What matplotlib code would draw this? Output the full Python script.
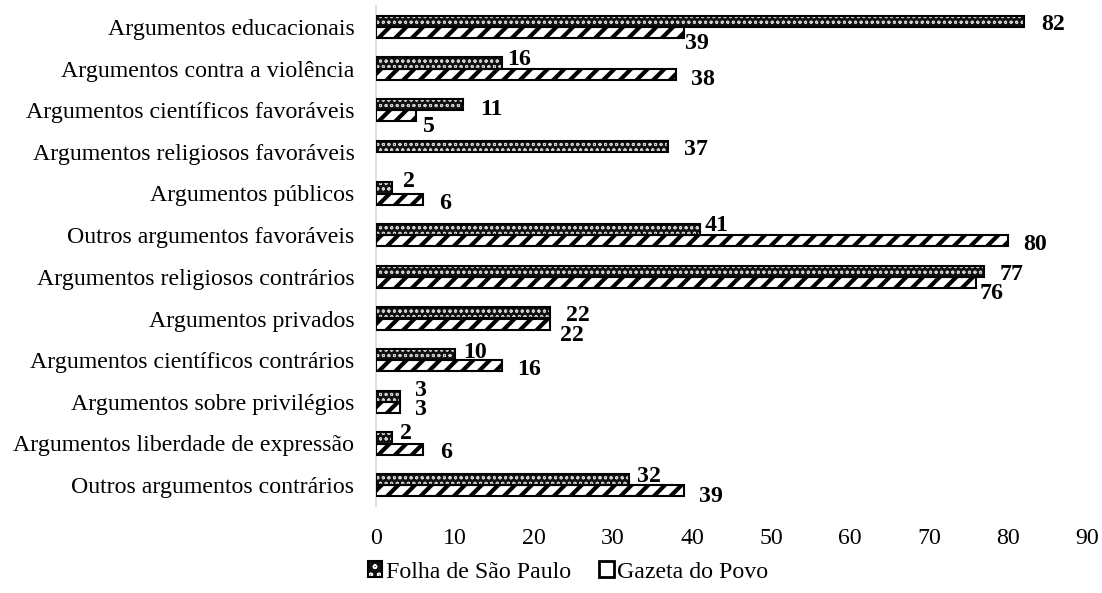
import matplotlib
matplotlib.use("Agg")
import matplotlib.pyplot as plt
import matplotlib.patches as mpatches
import numpy as np

categories = [
    "Argumentos educacionais",
    "Argumentos contra a violência",
    "Argumentos científicos favoráveis",
    "Argumentos religiosos favoráveis",
    "Argumentos públicos",
    "Outros argumentos favoráveis",
    "Argumentos religiosos contrários",
    "Argumentos privados",
    "Argumentos científicos contrários",
    "Argumentos sobre privilégios",
    "Argumentos liberdade de expressão",
    "Outros argumentos contrários",
]
folha = [82, 16, 11, 37, 2, 41, 77, 22, 10, 3, 2, 32]
gazeta = [39, 38, 5, 0, 6, 80, 76, 22, 16, 3, 6, 39]
series_names = ["Folha de São Paulo", "Gazeta do Povo"]
xticks = [0, 10, 20, 30, 40, 50, 60, 70, 80, 90]

# label offsets (pixels: dx right of bar end, dy down from bar centre)
folha_off = [(17, 1), (5, -6), (17, 2), (16, 1), (11, -9), (5, -6.5),
             (15, 1), (16, 0), (8, -5), (15, -8.5), (8, -7), (8, -6)]
gazeta_off = [(1, 9), (15, 3), (7, 8.5), (0, 0), (16, 2), (15, 1.5),
              (3, 9), (10, 9), (15, 1), (15, 0), (17, 1), (15, 3)]

plt.rcParams['font.family'] = ['Liberation Serif', 'DejaVu Serif']
FS = 17.2

fig = plt.figure(figsize=(11.02, 5.93), dpi=100)
ax = fig.add_axes([376 / 1102, 1 - 506 / 593, (1087 - 376) / 1102, 500 / 593])

y = np.arange(len(categories))
h = 0.265

def hatched_bars(vals, ypos, face, hcol, hatch, hlw):
    with plt.rc_context({'hatch.linewidth': hlw}):
        bars = ax.barh(ypos, vals, height=h, color=face, edgecolor=hcol,
                       hatch=hatch, linewidth=0, zorder=2)
        for b in bars:
            if hasattr(b, 'set_hatch_linewidth'):
                b.set_hatch_linewidth(hlw)
    outl = ax.barh(ypos, vals, height=h, fill=False, edgecolor='black',
                   linewidth=1.5, zorder=3)
    for b, v in zip(outl, vals):
        if v == 0:
            b.set_visible(False)
    return bars

hatched_bars(folha, y - h / 2, '#111111', '#d0d0d0', 'ooo', 0.7)
hatched_bars(gazeta, y + h / 2, 'white', 'black', '//', 3.0)

em = FS * 100 / 72
base_shift = 0.33 * em
for i, v in enumerate(folha):
    if v > 0:
        dx, dy = folha_off[i]
        ax.annotate(str(v), xy=(v, y[i] - h / 2), xytext=(dx, -(dy + base_shift)),
                    textcoords='offset pixels', ha='left', va='baseline',
                    fontsize=FS, fontweight='bold', zorder=5)
for i, v in enumerate(gazeta):
    if v > 0:
        dx, dy = gazeta_off[i]
        ax.annotate(str(v), xy=(v, y[i] + h / 2), xytext=(dx, -(dy + base_shift)),
                    textcoords='offset pixels', ha='left', va='baseline',
                    fontsize=FS, fontweight='bold', zorder=5)

ax.set_xlim(0, 90)
ax.set_ylim(len(categories) - 0.5, -0.5)
ax.set_xticks(xticks)
ax.set_xticklabels([str(t) for t in xticks], fontsize=FS)
ax.set_yticks(y)
ax.set_yticklabels(categories, fontsize=FS)
ax.tick_params(axis='y', length=0, pad=15.5)
ax.tick_params(axis='x', length=0, pad=16)
for s in ['top', 'right', 'bottom']:
    ax.spines[s].set_visible(False)
ax.spines['left'].set_color('#d9d9d9')
ax.spines['left'].set_linewidth(1.2)

with plt.rc_context({'hatch.linewidth': 1.2}):
    h1 = mpatches.Patch(facecolor='#111111', edgecolor='white', hatch='oo', linewidth=0)
h1b = mpatches.Patch(fill=False, edgecolor='black', linewidth=1.5)
h2 = mpatches.Patch(facecolor='white', edgecolor='black', linewidth=2)
fig.legend([(h1, h1b), h2], series_names, loc='center',
           bbox_to_anchor=(568 / 1102, 1 - 572 / 593), ncol=2, frameon=False,
           fontsize=FS, handlelength=0.6, handleheight=0.6, handletextpad=0.15,
           columnspacing=1.2, borderaxespad=0)

fig.savefig('out.png', dpi=100)
